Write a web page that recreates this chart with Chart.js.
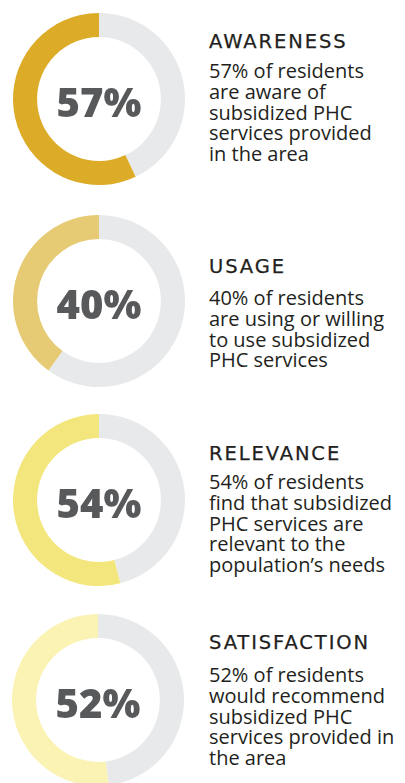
<!DOCTYPE html>
<html lang="en">

<head>
    <meta charset="UTF-8">
    <title>PHC survey results</title>
    <style>
        body {
            margin: 0;
            padding: 0;
            width: 405px;
            height: 783px;
            overflow: hidden;
            background: #fff;
            font-family: "Open Sans", Arial, sans-serif;
            position: relative;
        }

        .donut {
            position: absolute;
            width: 180px;
            height: 180px;
        }

        .title {
            position: absolute;
            left: 209px;
            font-family: "DejaVu Sans", "Open Sans", sans-serif;
            font-size: 19.5px;
            line-height: 20px;
            font-weight: 400;
            letter-spacing: 1.9px;
            color: #231f20;
            white-space: nowrap;
            -webkit-text-stroke: 0.25px #231f20;
        }

        .desc {
            position: absolute;
            left: 209px;
            font-size: 20px;
            line-height: 20.8px;
            color: #231f20;
            white-space: nowrap;
        }
    </style>
    <script src="https://cdn.jsdelivr.net/npm/chart.js"></script>
</head>

<body>
    <div id="blocks"></div>

    <script>
        // data
        const categories = ['AWARENESS', 'USAGE', 'RELEVANCE', 'SATISFACTION'];
        const percentValues = [57, 40, 54, 52];
        const remainderValues = [43, 60, 46, 48];
        const descriptions = [
            ['57% of residents', 'are aware of', 'subsidized PHC', 'services provided', 'in the area'],
            ['40% of residents', 'are using or willing', 'to use subsidized', 'PHC services'],
            ['54% of residents', 'find that subsidized', 'PHC services are', 'relevant to the', 'population\u2019s needs'],
            ['52% of residents', 'would recommend', 'subsidized PHC', 'services provided in', 'the area']
        ];

        // layout / style
        const ringColors = ['#dcac28', '#e6cb74', '#f3e67c', '#faf3b3'];
        const trackColor = '#e8e9ea';
        const centres = [[99, 99], [99, 301], [99, 500], [98, 700]];
        const titleBaselines = [49, 274, 461, 650];
        const descBaselines = [79, 306, 490, 683];

        const centreLabel = {
            id: 'centreLabel',
            afterDraw(chart) {
                const ctx = chart.ctx;
                const arc = chart.getDatasetMeta(0).data[0];
                const v = chart.data.datasets[0].data[1];
                ctx.save();
                ctx.font = '800 40px "Open Sans", Arial, sans-serif';
                ctx.fillStyle = '#58595b';
                ctx.textAlign = 'center';
                ctx.textBaseline = 'alphabetic';
                ctx.fillText(v + '%', arc.x, arc.y + 18);
                ctx.restore();
            }
        };

        const blocks = document.getElementById('blocks');

        categories.forEach((cat, i) => {
            const canvasWrap = document.createElement('div');
            canvasWrap.className = 'donut';
            canvasWrap.style.left = (centres[i][0] - 90) + 'px';
            canvasWrap.style.top = (centres[i][1] - 90) + 'px';
            const canvas = document.createElement('canvas');
            canvasWrap.appendChild(canvas);
            blocks.appendChild(canvasWrap);

            new Chart(canvas.getContext('2d'), {
                type: 'doughnut',
                data: {
                    labels: ['Other', cat],
                    datasets: [{
                        data: [remainderValues[i], percentValues[i]],
                        backgroundColor: [trackColor, ringColors[i]],
                        borderWidth: 0
                    }]
                },
                options: {
                    responsive: true,
                    maintainAspectRatio: false,
                    animation: false,
                    cutout: '72%',
                    layout: { padding: 4 },
                    plugins: {
                        legend: { display: false },
                        tooltip: { enabled: false }
                    }
                },
                plugins: [centreLabel]
            });

            const title = document.createElement('div');
            title.className = 'title';
            title.textContent = cat;
            title.style.top = (titleBaselines[i] - 17) + 'px';
            blocks.appendChild(title);

            const desc = document.createElement('div');
            desc.className = 'desc';
            desc.innerHTML = descriptions[i].join('<br>');
            desc.style.top = (descBaselines[i] - 18) + 'px';
            blocks.appendChild(desc);
        });
    </script>
</body>

</html>
